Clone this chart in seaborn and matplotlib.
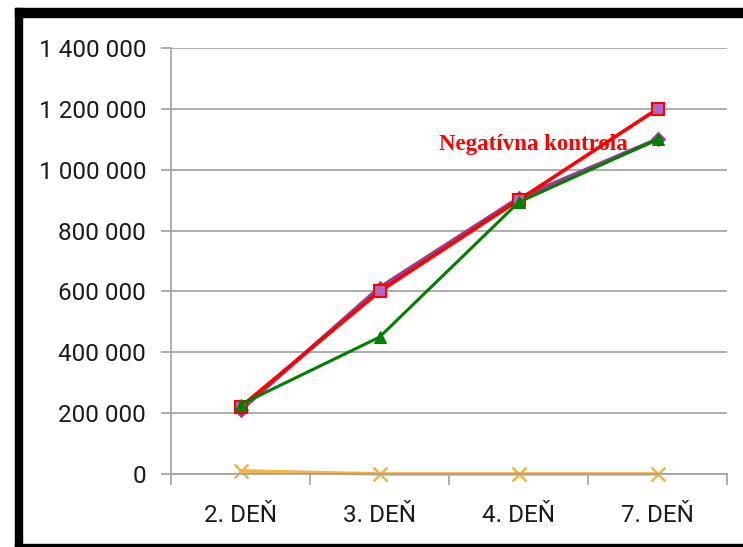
import pandas as pd
import numpy as np
import matplotlib
matplotlib.use('Agg')
import matplotlib.pyplot as plt
import seaborn as sns
from matplotlib.patches import Rectangle
from matplotlib.ticker import FuncFormatter, FixedLocator

sns.set_style('white')
plt.rcParams['font.family'] = ['Roboto', 'DejaVu Sans']

# data
dni = ['2. DEŇ', '3. DEŇ', '4. DEŇ', '7. DEŇ']
seria_kosostvorec = [210000, 612000, 906000, 1100000]
negativna_kontrola = [220000, 600000, 900000, 1200000]
seria_trojuholnik = [228000, 450000, 893000, 1100000]
seria_krizik = [10000, 0, 0, 0]

fig = plt.figure(figsize=(7.43, 5.47), dpi=100)
ax = fig.add_axes([0.2302, 0.1335, 0.7484, 0.7787])

series = [
    (seria_kosostvorec, dict(color='#9A3C8C', marker='D', markersize=7, markerfacecolor='#9A3C8C',
                             markeredgecolor='#9A3C8C', linewidth=3)),
    (negativna_kontrola, dict(color='#FF0000', marker='s', markersize=8, markerfacecolor='#B068C4',
                              markeredgecolor='#FF0000', markeredgewidth=1.5, linewidth=2.6)),
    (seria_trojuholnik, dict(color='#008000', marker='^', markersize=9, markerfacecolor='#008000',
                             markeredgecolor='#008000', linewidth=2.2)),
    (seria_krizik, dict(color='#F5B342', marker='x', markersize=10, markeredgecolor='#F5B342',
                        markeredgewidth=1.8, linewidth=2.6)),
]

for vals, style in series:
    df = pd.DataFrame({'den': dni, 'hodnota': vals})
    sns.lineplot(data=df, x='den', y='hodnota', ax=ax, sort=False, clip_on=False, **style)

ax.set_xlim(-0.5, 3.5)
ax.set_ylim(0, 1400000)
ax.set_yticks(np.arange(0, 1400001, 200000))
ax.yaxis.set_major_formatter(FuncFormatter(lambda v, p: f'{int(v):,}'.replace(',', ' ')))
ax.set_xlabel('')
ax.set_ylabel('')

ax.yaxis.grid(True, color='#A0A0A0', linewidth=1.2)
ax.set_axisbelow(True)
for s in ['top', 'right']:
    ax.spines[s].set_visible(False)
for s in ['left', 'bottom']:
    ax.spines[s].set_color('#A0A0A0')
    ax.spines[s].set_linewidth(1.2)

ax.tick_params(axis='y', which='major', left=True, length=7, width=1.2, color='#A0A0A0',
               pad=11, labelsize=17.5, labelcolor='#1a1a1a')
ax.tick_params(axis='x', which='major', bottom=False, pad=18, labelsize=17.5, labelcolor='#1a1a1a')
ax.xaxis.set_minor_locator(FixedLocator([-0.5, 0.5, 1.5, 2.5, 3.5]))
ax.tick_params(axis='x', which='minor', bottom=True, length=8, width=1.2, color='#A0A0A0')

ax.text(2.11, 1082000, 'Negatívna kontrola', color='#FF0000', fontsize=16.5, fontweight='bold',
        family=['Liberation Serif', 'DejaVu Serif'], ha='center', va='center')

# black frame around the picture
fig.patches.append(Rectangle((15 / 743, 1 - 16.5 / 547), 1, 8.5 / 547, transform=fig.transFigure,
                             color='black', zorder=10))
fig.patches.append(Rectangle((15 / 743, 0), 7.5 / 743, 1 - 8 / 547, transform=fig.transFigure,
                             color='black', zorder=10))
fig.patches.append(Rectangle((15 / 743, 0), 1, 3 / 547, transform=fig.transFigure,
                             color='black', zorder=10))

fig.savefig('out.png', dpi=100)
